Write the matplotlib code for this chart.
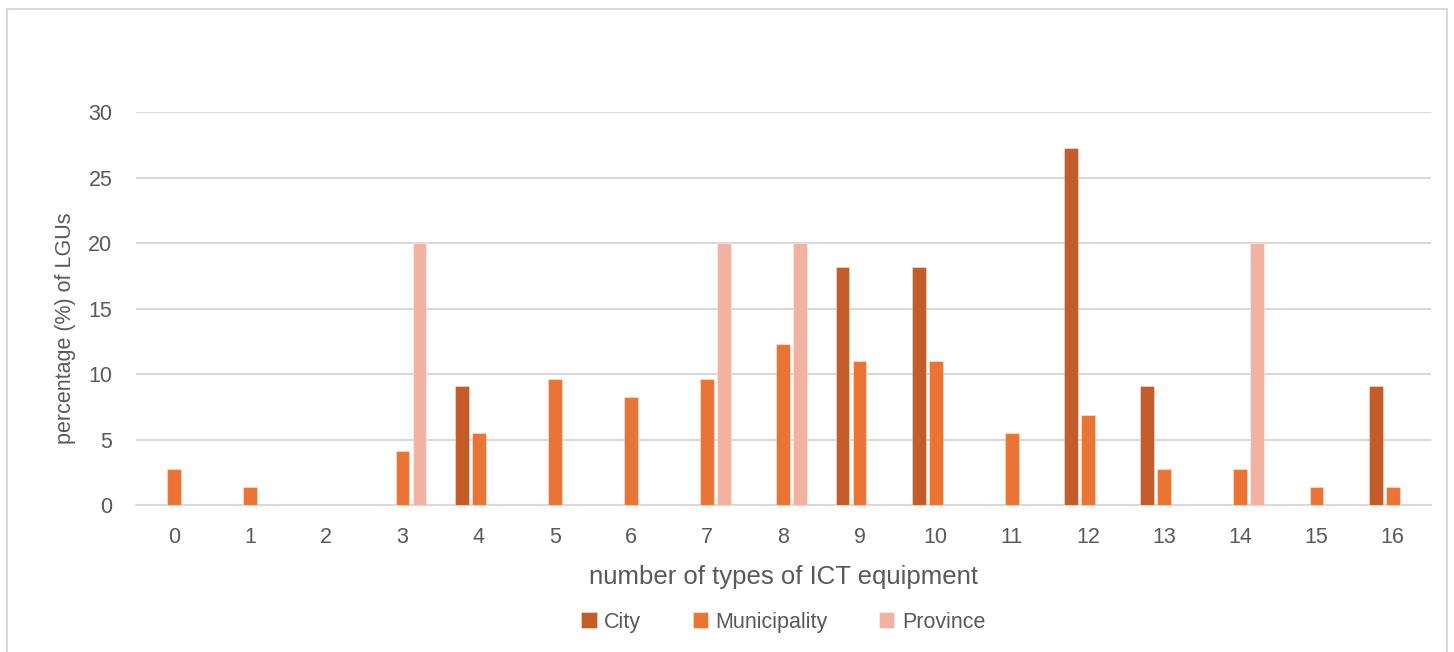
import numpy as np
import matplotlib.pyplot as plt

plt.rcParams['font.family'] = ['Liberation Sans', 'DejaVu Sans']

# data
counts = list(range(17))
city = [0, 0, 0, 0, 9.09, 0, 0, 0, 0, 18.18, 18.18, 0, 27.27, 9.09, 0, 0, 9.09]
municipality = [2.74, 1.37, 0, 4.11, 5.48, 9.59, 8.22, 9.59, 12.33, 10.96, 10.96,
                5.48, 6.85, 2.74, 2.74, 1.37, 1.37]
province = [0, 0, 0, 20, 0, 0, 0, 20, 20, 0, 0, 0, 0, 0, 20, 0, 0]

series = [("City", city, "#C35C28"),
          ("Municipality", municipality, "#EA7435"),
          ("Province", province, "#F2B2A2")]

txt = "#595959"
grid = "#D9D9D9"

fig = plt.figure(figsize=(14.54, 6.52), dpi=100)
ax = fig.add_axes([0.0935, 0.2255, 0.8905, 0.6025])

x = np.arange(len(counts))
step = 0.223
width = 0.18
for i, (name, vals, col) in enumerate(series):
    ax.bar(x + (i - 1) * step, vals, width, color=col, label=name,
           edgecolor=(1, 1, 1, 0.35), linewidth=0.8, zorder=3)

ax.set_xlim(-0.5, 16.5)
ax.set_ylim(0, 30)
ax.set_yticks(range(0, 31, 5))
ax.set_xticks(x)
ax.set_xticklabels([str(c) for c in counts])
ax.yaxis.grid(True, color=grid, linewidth=1.5, zorder=0)
ax.tick_params(axis='both', length=0, colors=txt, labelsize=15.5)
ax.tick_params(axis='x', pad=16)
ax.tick_params(axis='y', pad=17)
for s in ["top", "right", "left"]:
    ax.spines[s].set_visible(False)
ax.spines["bottom"].set_color(grid)
ax.spines["bottom"].set_linewidth(1.5)

ax.set_xlabel("number of types of ICT equipment", color=txt, fontsize=18.5, labelpad=12)
ax.set_ylabel("percentage (%) of LGUs", color=txt, fontsize=15.5)
ax.yaxis.set_label_coords(-0.046, 0.45)

ax.legend(loc="upper center", bbox_to_anchor=(0.5, -0.222), ncol=3, frameon=False,
          fontsize=15.5, labelcolor=txt, handlelength=0.7, handleheight=0.7,
          handletextpad=0.35, columnspacing=2.4)

# outer chart border
fig.patches.append(plt.Rectangle((0.005, -0.05), 0.99, 1.036, transform=fig.transFigure,
                                 fill=False, edgecolor=grid, linewidth=1.5))

fig.savefig("out.png", dpi=100)
